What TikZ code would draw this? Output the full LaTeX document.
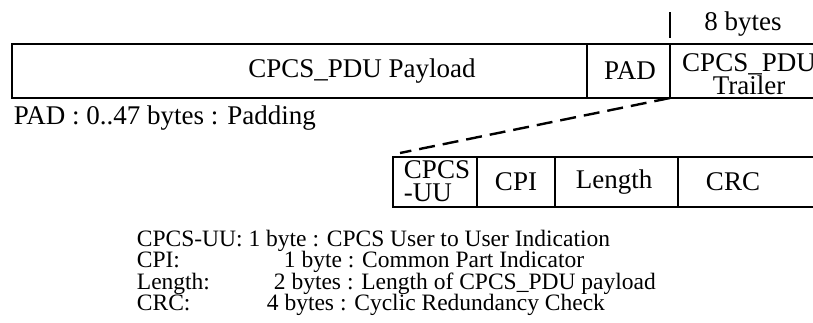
\documentclass[tikz,border=0pt]{standalone}
\usepackage{fontspec}
\setmainfont{Liberation Serif}
\begin{document}
\begin{tikzpicture}[x=1pt,y=-1pt,line width=1.8pt,
		celltext/.style={inner sep=0pt,font=\fontsize{27}{23}\selectfont},
		listtext/.style={inner sep=0pt,anchor=base west,font=\fontsize{23.5}{21}\selectfont}]
	\useasboundingbox (0,0) rectangle (813,322);
	
	% top
	\coordinate (TL) at (12,44);
	\coordinate (TR) at (830,98);
	\coordinate (P) at (587,44);
	\coordinate (T) at (670,98);
	\draw (TL) rectangle (TR);
	\draw (P) -- (P |- TR);
	\draw (T) -- (T |- TL);
	\draw (670,12) coordinate (M) -- (670,38) coordinate (N);
	
	\node[celltext] (bytes) at (743,24) {8 bytes};
	\node[celltext] (payload) at (362,71) {CPCS\_PDU Payload};
	\node[celltext] (pad) at (630,71) {PAD};
	\node[celltext,align=center] (trailer) at (749,74) {CPCS\_PDU\\Trailer};
	\node[celltext,anchor=west] (padnote) at (13,118) {PAD : 0..47 bytes : Padding};
	
	% bottom
	\coordinate (BL) at (393,157);
	\coordinate (BR) at (830,207);
	\draw (BL) rectangle (BR);
	\foreach \x in {477,555,678}
		\draw (\x,157) -- (\x,207);
	
	\node[celltext,align=left] (uu) at (437,181) {CPCS\\-UU};
	\node[celltext] (cpi) at (516,182) {CPI};
	\node[celltext] (length) at (614,182) {Length};
	\node[celltext] (crc) at (733,182) {CRC};
	
	\coordinate (D) at (400,153);
	\draw[line width=2.4pt,dash pattern=on 16pt off 8pt] (T) -- (D);
	
	% list
	\node[listtext] (luu) at (136,246) {CPCS-UU: 1 byte : CPCS User to User Indication};
	\node[listtext] (lcpi) at (136,267.5) {CPI:};
	\node[listtext] (dcpi) at (283,267.5) {1 byte : Common Part Indicator};
	\node[listtext] (llen) at (136,289) {Length:};
	\node[listtext] (dlen) at (273,289) {2 bytes : Length of CPCS\_PDU payload};
	\node[listtext] (lcrc) at (136,310.5) {CRC:};
	\node[listtext] (dcrc) at (266,310.5) {4 bytes : Cyclic Redundancy Check};
\end{tikzpicture}
\end{document}
